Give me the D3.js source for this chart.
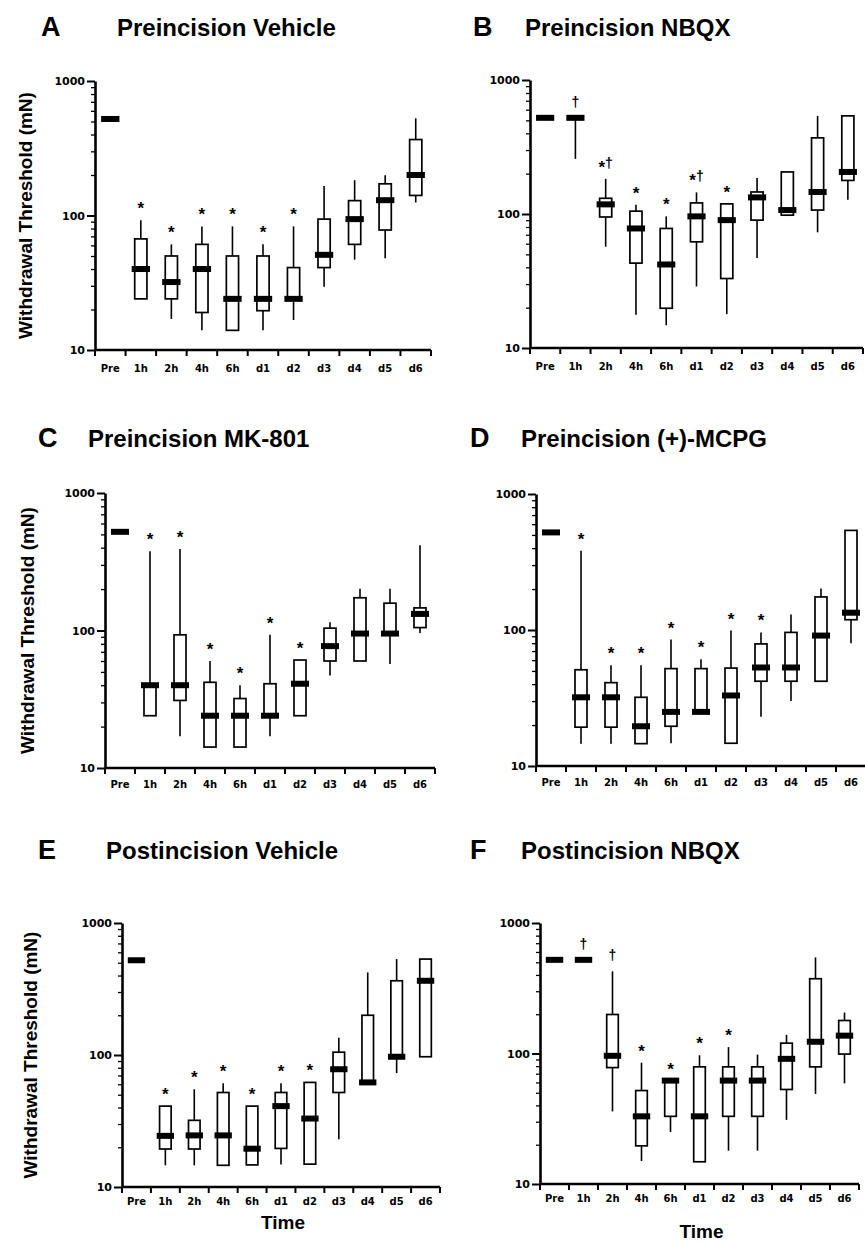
<!DOCTYPE html>
<html>
<head>
<meta charset="utf-8">
<script src="https://cdn.jsdelivr.net/npm/d3@7/dist/d3.min.js"></script>
<style>
	body { margin: 0; background: #fff; }
	svg { display: block; }
	.title { font-family: 'Liberation Sans', Arial, Helvetica, sans-serif; font-weight: bold; }
	.tick text { font-family: 'DejaVu Sans', sans-serif; font-weight: bold; fill: #000; }
</style>
</head>
<body>
<svg id="chart" width="865" height="1243"></svg>
<script>
'use strict';

// time points on the x axis
var times = ['Pre', '1h', '2h', '4h', '6h', 'd1', 'd2', 'd3', 'd4', 'd5', 'd6'];

// y axis ticks (mN, log scale)
var yMajor = [10, 100, 1000];
var yMinor = [20, 30, 40, 50, 60, 70, 80, 90, 200, 300, 400, 500, 600, 700, 800, 900];

// each row: [min, 25th, median, 75th, max] withdrawal threshold in mN
var preVehicle = [
	[522, 522, 522, 522, 522],
	[24, 24, 40, 67, 92],
	[17, 24, 32, 50, 61],
	[14, 19, 40, 61, 83],
	[14, 14, 24, 50, 83],
	[14, 19.6, 24, 50, 61],
	[16.7, 24, 24, 41, 83],
	[29.5, 41, 51, 94, 166],
	[47, 61, 94, 129, 183],
	[48, 78, 130, 172, 199],
	[125, 141, 200, 367, 528]
];
var preVehicleMarks = ['', '*', '*', '*', '*', '*', '*', '', '', '', ''];

var preNBQX = [
	[522, 522, 522, 522, 522],
	[258, 522, 522, 522, 522],
	[57, 95, 118, 131, 183],
	[17.7, 43, 78, 105, 117],
	[14.8, 19.8, 42, 78, 96],
	[28.8, 62, 96, 121, 145],
	[17.9, 33, 90, 119, 119],
	[47, 90, 133, 146, 186],
	[98, 98, 107, 206, 206],
	[73, 107, 146, 370, 540],
	[128, 178, 206, 540, 540]
];
var preNBQXMarks = ['', '\u2020', '*\u2020', '*', '*', '*\u2020', '*', '', '', '', ''];

var preMK801 = [
	[522, 522, 522, 522, 522],
	[24, 24, 40, 40, 377],
	[17, 31, 40, 93, 392],
	[14.2, 14.2, 24, 42, 60],
	[14.2, 14.2, 24, 32, 40],
	[17, 24, 24, 41, 93],
	[24, 24, 41, 61, 61],
	[47, 60, 77, 104, 115],
	[60, 60, 95, 173, 201],
	[57, 95, 95, 158, 201],
	[96, 105, 132, 146, 416]
];
var preMK801Marks = ['', '*', '*', '*', '*', '*', '*', '', '', '', ''];

var preMCPG = [
	[522, 522, 522, 522, 522],
	[14.6, 19.3, 32, 51, 383],
	[14.6, 19.3, 32, 41, 55],
	[14.6, 14.6, 19.6, 32, 55],
	[14.7, 19.6, 25, 52, 85],
	[25, 25, 25, 52, 61],
	[14.7, 14.7, 33, 52.5, 99],
	[23, 42, 53, 79, 96],
	[30, 42, 53, 96, 130],
	[42, 42, 91, 175, 202],
	[80, 119, 134, 540, 540]
];
var preMCPGMarks = ['', '*', '*', '*', '*', '*', '*', '*', '', '', ''];

var postVehicle = [
	[522, 522, 522, 522, 522],
	[14.6, 19.4, 24.4, 41, 41],
	[14.6, 19.4, 24.6, 32, 55],
	[14.6, 14.6, 24.6, 52, 61],
	[14.7, 14.7, 19.5, 41, 41],
	[14.8, 19.6, 41, 52, 61],
	[14.9, 14.9, 33, 62, 62],
	[23, 52, 78, 105, 135],
	[62, 62, 62, 200, 422],
	[73, 97, 97, 365, 533],
	[97, 97, 365, 533, 533]
];
var postVehicleMarks = ['', '*', '*', '*', '*', '*', '*', '', '', '', ''];

var postNBQX = [
	[522, 522, 522, 522, 522],
	[522, 522, 522, 522, 522],
	[36, 78, 96, 199, 426],
	[15, 19.6, 33, 52, 85],
	[25, 33, 62, 62, 62],
	[14.8, 14.8, 33, 79, 97],
	[18, 33, 62, 79, 112],
	[18, 33, 62, 79, 98],
	[31, 53, 91, 120, 139],
	[49, 79, 123, 374, 545],
	[59, 99, 137, 179, 206]
];
var postNBQXMarks = ['', '\u2020', '\u2020', '*', '*', '*', '*', '', '', '', ''];

// page layout of the six panels
var panels = [
	{ letter: 'A', title: 'Preincision Vehicle', data: preVehicle, marks: preVehicleMarks,
		left: 95, right: 431, top: 81, bottom: 350, head: 36, letterX: 41, titleX: 117, ylab: 32, labelDy: 22 },
	{ letter: 'B', title: 'Preincision NBQX', data: preNBQX, marks: preNBQXMarks,
		left: 530, right: 863, top: 80, bottom: 348, head: 36, letterX: 473, titleX: 525, labelDy: 22 },
	{ letter: 'C', title: 'Preincision MK-801', data: preMK801, marks: preMK801Marks,
		left: 105, right: 435, top: 493, bottom: 768, head: 447, letterX: 38, titleX: 88, ylab: 34, labelDy: 20 },
	{ letter: 'D', title: 'Preincision (+)-MCPG', data: preMCPG, marks: preMCPGMarks,
		left: 536, right: 866, top: 494, bottom: 766, head: 447, letterX: 470, titleX: 521, labelDy: 20 },
	{ letter: 'E', title: 'Postincision Vehicle', data: postVehicle, marks: postVehicleMarks,
		left: 122, right: 440, top: 923, bottom: 1187, head: 859, letterX: 38, titleX: 106, ylab: 37, labelDy: 18,
		xlab: 1229 },
	{ letter: 'F', title: 'Postincision NBQX', data: postNBQX, marks: postNBQXMarks,
		left: 540, right: 859, top: 923, bottom: 1184, head: 859, letterX: 470, titleX: 521, labelDy: 18,
		xlab: 1238 }
];

var svg = d3.select('#chart');

svg.append('rect')
	.attr('width', 865)
	.attr('height', 1243)
	.attr('fill', '#fff');

function drawPanel(p) {
	var g = svg.append('g');

	var x = d3.scaleBand().domain(times).range([p.left, p.right]);
	var y = d3.scaleLog().domain([10, 1000]).range([p.bottom, p.top]);

	// headings
	g.append('text')
		.attr('class', 'title')
		.attr('x', p.letterX)
		.attr('y', p.head)
		.style('font-size', '27px')
		.text(p.letter);

	g.append('text')
		.attr('class', 'title')
		.attr('x', p.titleX)
		.attr('y', p.head)
		.style('font-size', '24px')
		.text(p.title);

	if (p.ylab) {
		g.append('text')
			.attr('class', 'title')
			.attr('transform', 'translate(' + p.ylab + ',' + ((p.top + p.bottom) / 2) + ') rotate(-90)')
			.attr('text-anchor', 'middle')
			.style('font-size', '19px')
			.text('Withdrawal Threshold (mN)');
	}

	if (p.xlab) {
		g.append('text')
			.attr('class', 'title')
			.attr('x', (p.left + p.right) / 2 + 2)
			.attr('y', p.xlab)
			.attr('text-anchor', 'middle')
			.style('font-size', '19px')
			.text('Time');
	}

	// boxes
	var bw = x.bandwidth() * 0.4,
		mw = x.bandwidth() * 0.6;

	p.data.forEach(function(d, i) {
		var cx = x(times[i]) + x.bandwidth() / 2;

		if (d[4] > d[0]) {
			g.append('line')
				.attr('x1', cx).attr('x2', cx)
				.attr('y1', y(d[4])).attr('y2', y(d[0]))
				.attr('stroke', '#000')
				.attr('stroke-width', 1.6);
		}
		if (d[3] > d[1]) {
			g.append('rect')
				.attr('x', cx - bw / 2)
				.attr('y', y(d[3]))
				.attr('width', bw)
				.attr('height', y(d[1]) - y(d[3]))
				.attr('fill', '#fff')
				.attr('stroke', '#000')
				.attr('stroke-width', 1.7);
		}
		g.append('rect')
			.attr('x', cx - mw / 2)
			.attr('y', y(d[2]) - 3)
			.attr('width', mw)
			.attr('height', 6)
			.attr('fill', '#000');

		var m = p.marks[i];
		if (m) {
			var t = g.append('text')
				.attr('class', 'title')
				.attr('x', cx)
				.attr('y', y(d[4]) - 11)
				.attr('text-anchor', 'middle');
			m.split('').forEach(function(ch) {
				t.append('tspan')
					.attr('dy', ch === '*' ? 5 : (m.length > 1 ? -5 : 0))
					.style('font-size', ch === '*' ? '17px' : '14px')
					.text(ch);
			});
		}
	});

	// y axis: minor then major ticks
	g.append('g')
		.attr('transform', 'translate(' + p.left + ',0)')
		.call(d3.axisLeft(y).tickValues(yMinor).tickSize(4).tickSizeOuter(0).tickFormat(''))
		.call(function(a) { a.select('.domain').remove(); })
		.selectAll('line').attr('stroke-width', 1.3);

	var ya = g.append('g')
		.attr('transform', 'translate(' + p.left + ',0)')
		.call(d3.axisLeft(y).tickValues(yMajor).tickSize(8).tickSizeOuter(0).tickFormat(d3.format('d')));
	ya.select('.domain').attr('stroke-width', 2.6);
	ya.selectAll('.tick line').attr('stroke-width', 2);
	ya.selectAll('.tick text').style('font-size', '11px').attr('x', -10);

	// x axis: labels centred in bands, ticks on band edges
	var xa = g.append('g')
		.attr('transform', 'translate(0,' + p.bottom + ')')
		.call(d3.axisBottom(x).tickSize(0).tickSizeOuter(0));
	xa.select('.domain').attr('stroke-width', 2.6).attr('d', 'M' + p.left + ',0H' + p.right);
	xa.selectAll('.tick text')
		.style('font-size', '10px')
		.attr('y', p.labelDy)
		.attr('dy', 0);

	var edges = times.map(function(t) { return x(t); }).concat([p.right]);
	xa.selectAll('line.edge')
		.data(edges)
		.enter().append('line')
		.attr('class', 'edge')
		.attr('x1', function(v) { return v; })
		.attr('x2', function(v) { return v; })
		.attr('y1', 0)
		.attr('y2', 6)
		.attr('stroke', '#000')
		.attr('stroke-width', 2);
}

panels.forEach(drawPanel);
</script>
</body>
</html>
